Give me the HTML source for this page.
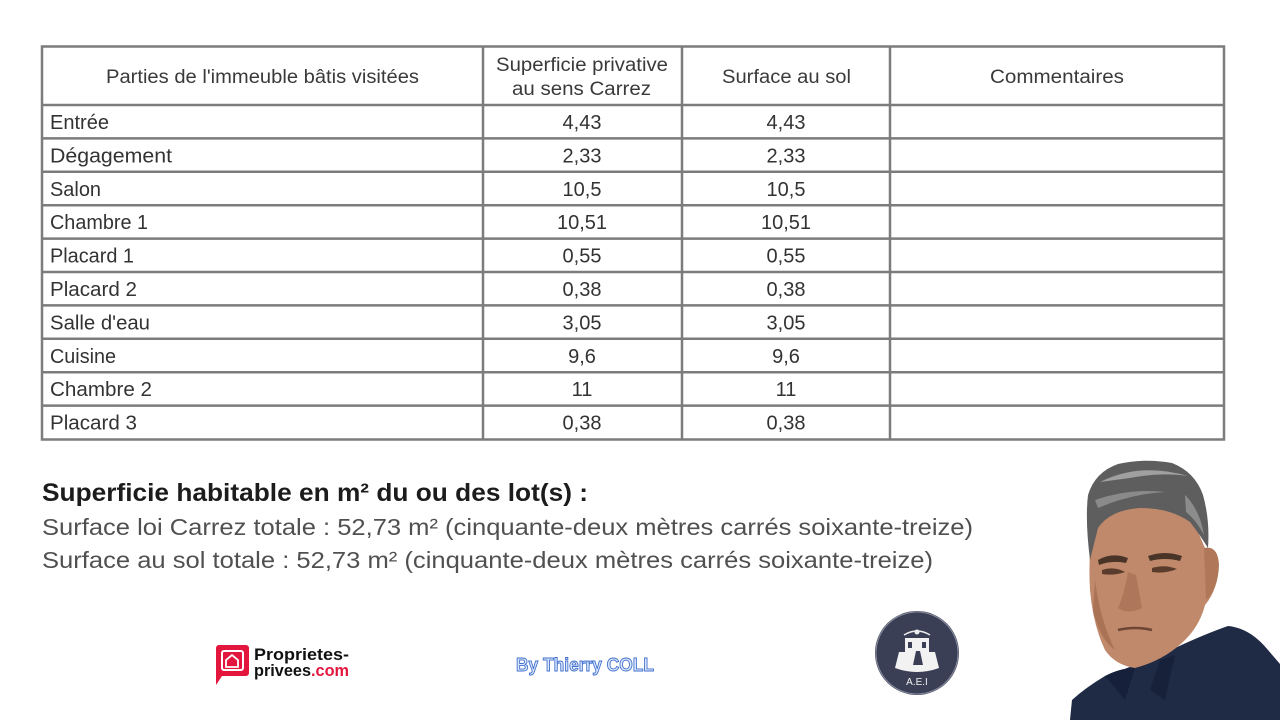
<!DOCTYPE html>
<html>
<head>
<meta charset="utf-8">
<style>
  html,body{margin:0;padding:0;background:#fff;}
  svg{display:block;}
  text{font-family:"Liberation Sans", sans-serif;}
</style>
</head>
<body>
<svg width="1280" height="720" viewBox="0 0 1280 720" xmlns="http://www.w3.org/2000/svg">
  <rect width="1280" height="720" fill="#fff"/>

  <!-- Table grid -->
  <g stroke="#7c7c7c" stroke-width="2.5" fill="none">
    <rect x="42" y="46.5" width="1182" height="393"/>
    <line x1="483" y1="46" x2="483" y2="440"/>
    <line x1="682" y1="46" x2="682" y2="440"/>
    <line x1="890" y1="46" x2="890" y2="440"/>
    <line x1="42" y1="105" x2="1224" y2="105"/>
    <line x1="42" y1="138.4" x2="1224" y2="138.4"/>
    <line x1="42" y1="171.8" x2="1224" y2="171.8"/>
    <line x1="42" y1="205.2" x2="1224" y2="205.2"/>
    <line x1="42" y1="238.6" x2="1224" y2="238.6"/>
    <line x1="42" y1="272" x2="1224" y2="272"/>
    <line x1="42" y1="305.4" x2="1224" y2="305.4"/>
    <line x1="42" y1="338.8" x2="1224" y2="338.8"/>
    <line x1="42" y1="372.2" x2="1224" y2="372.2"/>
    <line x1="42" y1="405.6" x2="1224" y2="405.6"/>
  </g>

  <!-- Header -->
  <g fill="#3a3a3a" font-size="19">
    <text x="106" y="83" textLength="313" lengthAdjust="spacingAndGlyphs">Parties de l'immeuble bâtis visitées</text>
    <text x="496" y="71" textLength="172" lengthAdjust="spacingAndGlyphs">Superficie privative</text>
    <text x="512" y="95" textLength="139" lengthAdjust="spacingAndGlyphs">au sens Carrez</text>
    <text x="722" y="83" textLength="129" lengthAdjust="spacingAndGlyphs">Surface au sol</text>
    <text x="990" y="83" textLength="134" lengthAdjust="spacingAndGlyphs">Commentaires</text>
  </g>

  <!-- Rows -->
  <g fill="#333" font-size="20">
    <text x="50" y="129" textLength="59" lengthAdjust="spacingAndGlyphs">Entrée</text>
    <text x="50" y="162.4" textLength="122" lengthAdjust="spacingAndGlyphs">Dégagement</text>
    <text x="50" y="195.8" textLength="51" lengthAdjust="spacingAndGlyphs">Salon</text>
    <text x="50" y="229.2" textLength="98" lengthAdjust="spacingAndGlyphs">Chambre 1</text>
    <text x="50" y="262.6" textLength="84" lengthAdjust="spacingAndGlyphs">Placard 1</text>
    <text x="50" y="296" textLength="87" lengthAdjust="spacingAndGlyphs">Placard 2</text>
    <text x="50" y="329.4" textLength="100" lengthAdjust="spacingAndGlyphs">Salle d'eau</text>
    <text x="50" y="362.8" textLength="66" lengthAdjust="spacingAndGlyphs">Cuisine</text>
    <text x="50" y="396.2" textLength="102" lengthAdjust="spacingAndGlyphs">Chambre 2</text>
    <text x="50" y="429.6" textLength="87" lengthAdjust="spacingAndGlyphs">Placard 3</text>
  </g>
  <g fill="#333" font-size="20" text-anchor="middle">
    <text x="582" y="129">4,43</text><text x="786" y="129">4,43</text>
    <text x="582" y="162.4">2,33</text><text x="786" y="162.4">2,33</text>
    <text x="582" y="195.8">10,5</text><text x="786" y="195.8">10,5</text>
    <text x="582" y="229.2">10,51</text><text x="786" y="229.2">10,51</text>
    <text x="582" y="262.6">0,55</text><text x="786" y="262.6">0,55</text>
    <text x="582" y="296">0,38</text><text x="786" y="296">0,38</text>
    <text x="582" y="329.4">3,05</text><text x="786" y="329.4">3,05</text>
    <text x="582" y="362.8">9,6</text><text x="786" y="362.8">9,6</text>
    <text x="582" y="396.2">11</text><text x="786" y="396.2">11</text>
    <text x="582" y="429.6">0,38</text><text x="786" y="429.6">0,38</text>
  </g>

  <!-- Summary -->
  <text x="42" y="501" font-size="25" font-weight="bold" fill="#1c1c1c" textLength="546" lengthAdjust="spacingAndGlyphs">Superficie habitable en m² du ou des lot(s) :</text>
  <text x="42" y="535" font-size="23" fill="#505050" textLength="931" lengthAdjust="spacingAndGlyphs">Surface loi Carrez totale : 52,73 m² (cinquante-deux mètres carrés soixante-treize)</text>
  <text x="42" y="568" font-size="23" fill="#505050" textLength="891" lengthAdjust="spacingAndGlyphs">Surface au sol totale : 52,73 m² (cinquante-deux mètres carrés soixante-treize)</text>

  <!-- Proprietes-privees logo -->
  <g>
    <path d="M219 645 h27 a3 3 0 0 1 3 3 v25 a3 3 0 0 1 -3 3 h-24 l-6 9 v-37 a3 3 0 0 1 3 -3 z" fill="#e3173e"/>
    <rect x="222" y="651" width="21" height="19" rx="2" fill="none" stroke="#fff" stroke-width="2"/>
    <path d="M226 667 v-7 l6 -5 l6 5 v7 z" fill="none" stroke="#fff" stroke-width="1.8"/>
    <text x="254" y="660" font-size="17" font-weight="bold" fill="#111" textLength="95" lengthAdjust="spacingAndGlyphs">Proprietes-</text>
    <text x="254" y="676" font-size="17" font-weight="bold" fill="#111" textLength="95" lengthAdjust="spacingAndGlyphs">privees<tspan fill="#e3173e">.com</tspan></text>
  </g>

  <!-- By Thierry COLL -->
  <text x="516" y="671" font-size="18" font-weight="bold" fill="#dde7fb" stroke="#3f6fcf" stroke-width="0.9" textLength="138" lengthAdjust="spacingAndGlyphs">By Thierry  COLL</text>

  <!-- AEI logo -->
  <g>
    <circle cx="917" cy="653" r="42" fill="#3b3f56"/>
    <circle cx="917" cy="653" r="41" fill="none" stroke="#8a8ea0" stroke-width="1"/>
    <path d="M895 668 l4 -16 h6 v-14 h24 v14 h6 l4 16 q-22 8 -44 0 z" fill="#f2f2f2"/>
    <path d="M904 635 q13 -8 26 0" fill="none" stroke="#eee" stroke-width="1.5"/>
    <circle cx="917" cy="632" r="2.5" fill="#eee"/>
    <rect x="908" y="642" width="4" height="6" fill="#3b3f56"/>
    <rect x="922" y="642" width="4" height="6" fill="#3b3f56"/>
    <path d="M913 665 l3 -14 l4 0 l3 14 z" fill="#3b3f56"/>
    <text x="917" y="685" font-family="Liberation Serif, serif" font-size="10" fill="#f0f0f0" text-anchor="middle">A.E.I</text>
  </g>

  <!-- Photo approximation -->
  <g>
    <path d="M1070 720 L1072 700 Q1085 688 1105 676 Q1140 664 1175 648 Q1205 634 1228 626 Q1250 628 1268 650 L1280 664 L1280 720 Z" fill="#1f2a44"/>
    <path d="M1093 525 Q1100 505 1130 505 Q1170 505 1195 525 L1205 548 Q1218 548 1218 565 Q1218 590 1205 605 Q1200 625 1185 640 Q1165 660 1135 668 Q1115 665 1105 650 Q1093 625 1090 590 Q1088 555 1093 525 Z" fill="#c0896b"/>
    <!-- ear -->
    <path d="M1204 548 Q1218 545 1219 565 Q1218 590 1206 600 Z" fill="#b07858"/>
    <!-- brows & eyes -->
    <path d="M1098 560 Q1112 552 1128 558 L1126 563 Q1112 560 1099 565 Z" fill="#4a3428"/>
    <path d="M1148 556 Q1165 550 1182 556 L1180 561 Q1165 557 1150 561 Z" fill="#4a3428"/>
    <path d="M1102 570 Q1114 566 1125 572 Q1114 576 1102 574 Z" fill="#5a3c2c"/>
    <path d="M1152 568 Q1165 564 1177 569 Q1165 574 1152 572 Z" fill="#5a3c2c"/>
    <!-- nose shadow & mouth -->
    <path d="M1128 572 Q1124 595 1118 608 Q1128 615 1142 608 L1136 575 Z" fill="#a76e52" opacity="0.7"/>
    <path d="M1118 630 Q1135 626 1152 630" fill="none" stroke="#6e4634" stroke-width="2.5"/>
    <path d="M1095 580 Q1100 620 1115 650 Q1100 640 1093 610 Z" fill="#9c6448" opacity="0.6"/>
    <!-- hair -->
    <path d="M1090 560 Q1085 520 1088 495 Q1095 472 1118 464 Q1145 458 1172 463 Q1195 472 1203 495 Q1210 520 1208 548 Q1200 535 1190 522 Q1170 508 1140 508 Q1110 510 1098 528 Z" fill="#5e5e5e"/>
    <path d="M1100 482 Q1140 462 1188 476 Q1160 472 1130 478 Z" fill="#a0a0a0"/>
    <path d="M1095 500 Q1130 488 1165 492 Q1130 494 1098 508 Z" fill="#8a8a8a"/>
    <path d="M1185 495 Q1200 510 1204 535 Q1196 520 1186 512 Z" fill="#8c8c8c"/>
    <!-- collar -->
    <path d="M1150 690 L1160 660 L1175 655 L1165 700 Z" fill="#18213a"/>
    <path d="M1105 676 Q1120 668 1135 668 L1125 700 Z" fill="#16203a"/>
  </g>
</svg>
</body>
</html>
